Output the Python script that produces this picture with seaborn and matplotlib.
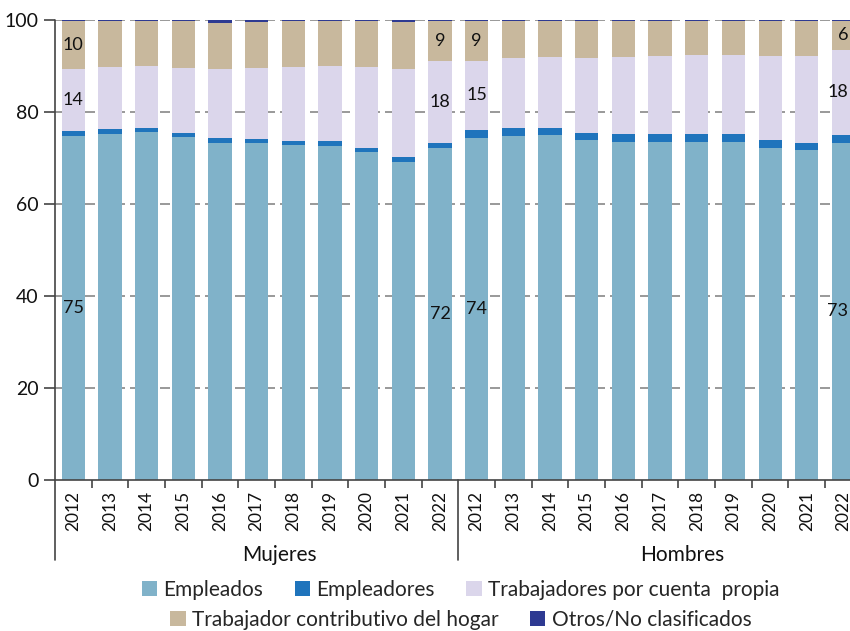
import matplotlib
matplotlib.use("Agg")
import matplotlib.pyplot as plt
from matplotlib.patches import Patch
import seaborn as sns
import numpy as np
import pandas as pd

years = ["2012", "2013", "2014", "2015", "2016", "2017", "2018", "2019", "2020", "2021", "2022"]
groups = ["Mujeres", "Hombres"]

# Mujeres 2012-2022, then Hombres 2012-2022 (percent)
empleados = [74.8, 75.2, 75.6, 74.6, 73.3, 73.3, 72.8, 72.7, 71.3, 69.1, 72.2,
             74.3, 74.8, 75.0, 73.9, 73.5, 73.5, 73.5, 73.5, 72.2, 71.7, 73.3]
empleadores = [1.0, 1.1, 0.9, 0.8, 1.0, 0.8, 0.9, 1.0, 0.9, 1.1, 1.1,
               1.8, 1.7, 1.5, 1.5, 1.7, 1.7, 1.7, 1.7, 1.7, 1.6, 1.7]
cuenta_propia = [13.6, 13.5, 13.5, 14.2, 15.0, 15.5, 16.1, 16.3, 17.6, 19.1, 17.8,
                 15.0, 15.2, 15.5, 16.3, 16.8, 17.0, 17.2, 17.2, 18.3, 18.9, 18.5]
contributivo = [10.3, 10.0, 9.8, 10.2, 10.1, 10.0, 10.0, 9.8, 10.0, 10.3, 8.6,
                8.7, 8.1, 7.8, 8.1, 7.8, 7.6, 7.4, 7.4, 7.6, 7.6, 6.3]
otros = [0.3, 0.2, 0.2, 0.2, 0.6, 0.4, 0.2, 0.2, 0.2, 0.4, 0.3,
         0.2, 0.2, 0.2, 0.2, 0.2, 0.2, 0.2, 0.2, 0.2, 0.2, 0.2]

series = ["Empleados", "Empleadores", "Trabajadores por cuenta  propia",
          "Trabajador contributivo del hogar", "Otros/No clasificados"]
colors = ["#80B2C9", "#1F74BC", "#DBD6EB", "#C8B89D", "#2E3A92"]
labeled_bars = [0, 10, 11, 21]
labeled_series = [0, 2, 3]

keys = [g[0] + y for g in groups for y in years]
values = np.array([empleados, empleadores, cuenta_propia, contributivo, otros])
cum = values.cumsum(axis=0)
df = pd.DataFrame({"key": keys})
for i, s in enumerate(series):
    df[s] = cum[i]

sns.set_style("white")
plt.rcParams["font.family"] = ["Lato", "DejaVu Sans"]

fig = plt.figure(figsize=(8.5, 6.31), dpi=100)
ax = fig.add_axes([55 / 850, 1 - 480 / 631, 1 - 55 / 850, 460 / 631])

for y in [20, 40, 60, 80, 100]:
    ax.axhline(y, color="#888888", lw=1.2, ls=(0, (6, 3)), zorder=0)

# stacked bars drawn as overlapping cumulative totals, top series first
for i in range(len(series) - 1, -1, -1):
    sns.barplot(data=df, x="key", y=series[i], order=keys, color=colors[i],
                saturation=1, width=0.63, errorbar=None, ax=ax, zorder=2,
                linewidth=0, edgecolor="none")

for b in labeled_bars:
    for i in labeled_series:
        mid = cum[i, b] - values[i, b] / 2
        if b == len(keys) - 1:
            # last bar is cut by the figure edge, keep its labels inside
            ax.text(b + 0.13, mid, f"{round(values[i, b])}", ha="right", va="center",
                    fontsize=13, color="#111111", zorder=3)
        else:
            ax.text(b, mid, f"{round(values[i, b])}", ha="center", va="center",
                    fontsize=13, color="#111111", zorder=3)

ax.set_xlim(-0.5, 21.18)
ax.set_ylim(0, 100)
ax.set_xlabel("")
ax.set_ylabel("")
ax.set_yticks([0, 20, 40, 60, 80, 100])
ax.tick_params(axis="y", left=True, length=8, width=1.2, color="#444444",
               labelsize=14, pad=4, labelcolor="#111111")

ax.set_xticks(range(len(keys)))
ax.set_xticklabels(years + years, rotation=90, fontsize=12.5, color="#111111")
ax.tick_params(axis="x", bottom=False, length=0, pad=8)
ax.set_xticks([k + 0.5 for k in range(len(keys) - 1) if k != 10], minor=True)
ax.tick_params(axis="x", which="minor", bottom=True, length=6, width=1.2, color="#444444")

for side in ["top", "right", "left"]:
    ax.spines[side].set_visible(False)
ax.spines["bottom"].set_color("#444444")
ax.spines["bottom"].set_linewidth(1.2)
ax.spines["bottom"].set_zorder(4)

ax.plot([0, 0], [-0.174, 1], transform=ax.transAxes, color="#444444", lw=1.2, clip_on=False)
trans = ax.get_xaxis_transform()
ax.plot([10.5, 10.5], [-0.174, 0], transform=trans, color="#444444", lw=1.2, clip_on=False)
ax.text(5.62, -0.163, groups[0], transform=trans, ha="center", va="center", fontsize=15, color="#111111")
ax.text(16.6, -0.163, groups[1], transform=trans, ha="center", va="center", fontsize=15, color="#111111")

handles = [Patch(facecolor=c, edgecolor="none") for c in colors]
leg_kw = dict(frameon=False, fontsize=15, handlelength=0.75, handleheight=0.75,
              handletextpad=0.3, columnspacing=1.5, borderaxespad=0, loc="center")
fig.legend(handles[:3], series[:3], ncol=3, bbox_to_anchor=(0.542, 1 - 590 / 631), **leg_kw)
fig.legend(handles[3:], series[3:], ncol=2, bbox_to_anchor=(0.542, 1 - 620 / 631), **leg_kw)

fig.savefig("out.png", dpi=100)
